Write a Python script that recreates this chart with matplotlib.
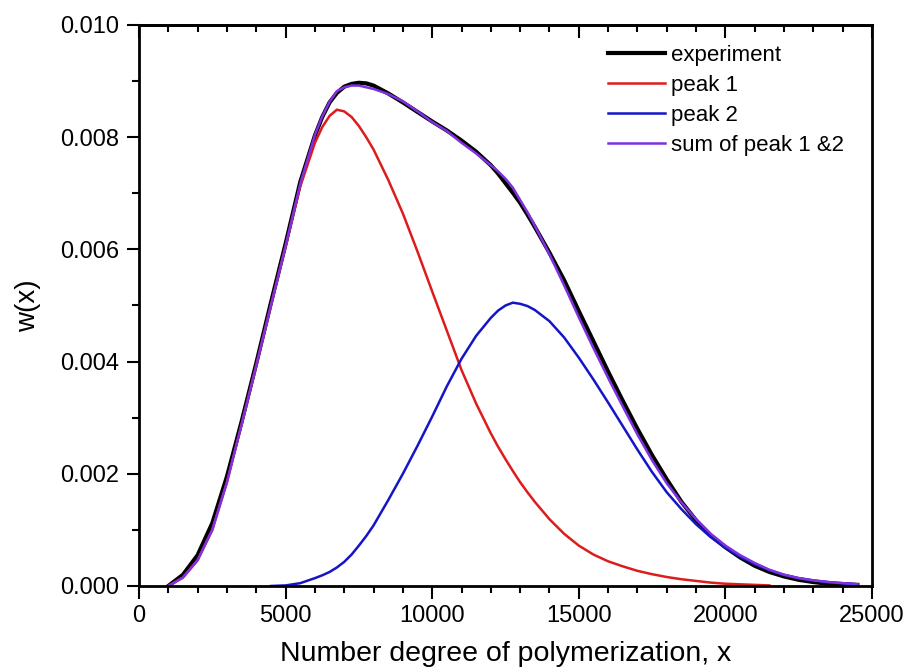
import numpy as np
import matplotlib.pyplot as plt
from matplotlib.ticker import MultipleLocator

plt.rcParams['font.family'] = ['Liberation Sans', 'DejaVu Sans']

# degree of polymerization, denser near the peaks
dp = np.array(
    [1000, 1500, 2000, 2500, 3000, 3500, 4000, 4500, 5000, 5500, 6000]
    + [6250, 6500, 6750, 7000, 7250, 7500, 7750, 8000]
    + [8500, 9000, 9500, 10000, 10500, 11000, 11500, 12000]
    + [12250, 12500, 12750, 13000, 13250, 13500]
    + list(range(14000, 25000, 500)))

nan = np.nan
peak1 = np.array(
    [0.0, 0.00015, 0.00046, 0.00100, 0.00185, 0.00288, 0.00393, 0.00500, 0.00605, 0.00712, 0.00790]
    + [0.00818, 0.00838, 0.00849, 0.00846, 0.00836, 0.00820, 0.00800, 0.00778]
    + [0.00724, 0.00664, 0.00596, 0.00525, 0.00455, 0.00385, 0.00325, 0.00272]
    + [0.00248, 0.00226, 0.00205, 0.00185, 0.00167, 0.00150]
    + [0.00119, 0.00093, 0.00072, 0.00056, 0.00044, 0.00035, 0.00027, 0.00021, 0.00016, 0.00012, 0.00009,
       0.00006, 0.00004, 0.00003, 0.00002, 0.00001, nan, nan, nan, nan, nan, nan])

peak2 = np.array(
    [nan, nan, nan, nan, nan, nan, nan, 0.0, 0.00001, 0.00005, 0.00014]
    + [0.00019, 0.00025, 0.00033, 0.00043, 0.00056, 0.00072, 0.00089, 0.00108]
    + [0.00153, 0.00200, 0.00250, 0.00302, 0.00356, 0.00405, 0.00446, 0.00478]
    + [0.00491, 0.00500, 0.00505, 0.00503, 0.00499, 0.00492]
    + [0.00472, 0.00443, 0.00407, 0.00368, 0.00327, 0.00285, 0.00243, 0.00203, 0.00167, 0.00137, 0.00110,
       0.00087, 0.00068, 0.00052, 0.00039, 0.00028, 0.00020, 0.00014, 0.00010, 0.00007, 0.00005, 0.00003])

experiment = np.array(
    [0.0, 0.00020, 0.00055, 0.00112, 0.00195, 0.00293, 0.00397, 0.00505, 0.00610, 0.00720, 0.00803]
    + [0.00836, 0.00862, 0.00879, 0.00890, 0.00895, 0.00897, 0.00896, 0.00892]
    + [0.00878, 0.00862, 0.00845, 0.00828, 0.00812, 0.00794, 0.00774, 0.00750]
    + [0.00735, 0.00718, 0.00701, 0.00683, 0.00662, 0.00640]
    + [0.00594, 0.00545, 0.00490, 0.00436, 0.00382, 0.00330, 0.00280, 0.00233, 0.00190, 0.00150, 0.00117,
       0.00090, 0.00069, 0.00051, 0.00036, 0.00025, 0.00017, 0.00011, 0.00007, 0.00004, 0.00003, 0.00002])

peak_sum = np.nansum([peak1, peak2], axis=0)

fig = plt.figure(figsize=(9.09, 6.72), dpi=100)
ax = fig.add_axes([0.1529, 0.128, 0.8064, 0.8348])

ax.plot(dp, experiment, color='black', lw=3.0, label='experiment')
ax.plot(dp, peak1, color='#dd1c1c', lw=1.8, label='peak 1')
ax.plot(dp, peak2, color='#1515c8', lw=1.8, label='peak 2')
ax.plot(dp, peak_sum, color='#8030e0', lw=1.8, label='sum of peak 1 &2')

ax.set_xlim(0, 25000)
ax.set_ylim(0, 0.010)
ax.xaxis.set_major_locator(MultipleLocator(5000))
ax.xaxis.set_minor_locator(MultipleLocator(1000))
ax.yaxis.set_major_locator(MultipleLocator(0.002))
ax.yaxis.set_minor_locator(MultipleLocator(0.001))
ax.yaxis.set_major_formatter(plt.FormatStrFormatter('%.3f'))

ax.tick_params(which='both', direction='out', top=False, right=False,
               labelsize=17, width=1.5, pad=5)
ax.tick_params(which='major', length=9)
ax.tick_params(which='minor', length=5)
# top axis ticks point inward
top = ax.secondary_xaxis('top')
top.set_xticks(np.arange(0, 25001, 5000))
top.xaxis.set_minor_locator(MultipleLocator(1000))
top.tick_params(which='both', direction='in', labeltop=False, width=1.5)
top.tick_params(which='major', length=9)
top.tick_params(which='minor', length=5)
top.spines['top'].set_linewidth(2)

for s in ax.spines.values():
    s.set_linewidth(2)

ax.set_xlabel('Number degree of polymerization, x', fontsize=20.5, labelpad=10)
ax.set_ylabel('w(x)', fontsize=20, labelpad=14)

ax.legend(loc='upper left', bbox_to_anchor=(0.6398, 0.964), frameon=False,
          fontsize=16, handlelength=2.55, handletextpad=0.3, labelspacing=0.4,
          borderpad=0, borderaxespad=0)

fig.savefig('out.png', dpi=100)
